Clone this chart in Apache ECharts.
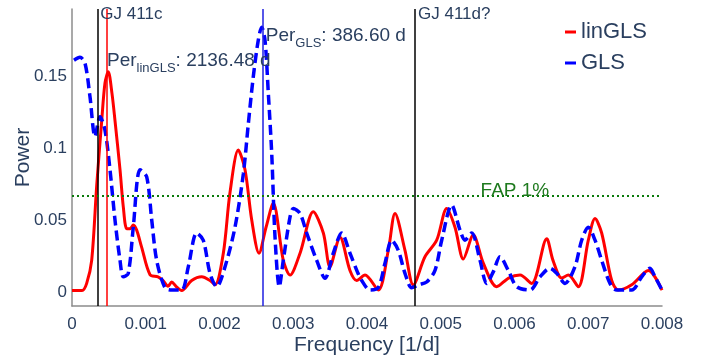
<!DOCTYPE html>
<html>
<head>
<meta charset="utf-8">
<script src="https://cdn.jsdelivr.net/npm/echarts@6/dist/echarts.min.js"></script>
<style>
  html, body { margin: 0; padding: 0; background: #ffffff; }
  #chart { width: 711px; height: 363px; }
</style>
</head>
<body>
<div id="chart"></div>
<script>
// Periodogram of the RV residuals: linear-trend GLS and plain GLS
const freqLinGLS = [0, 0.000136, 0.000199, 0.000267, 0.000335, 0.000403, 0.000447, 0.000492, 0.000542, 0.000583,
  0.000651, 0.000696, 0.000742, 0.000786, 0.000831, 0.000877, 0.000945, 0.001058, 0.001166, 0.001234,
  0.001302, 0.001352, 0.001410, 0.001487, 0.001623, 0.001759, 0.001871, 0.001939, 0.002052, 0.002142,
  0.002255, 0.002346, 0.002437, 0.002536, 0.002631, 0.002729, 0.002865, 0.002956, 0.003092, 0.003272,
  0.003408, 0.003498, 0.003634, 0.003769, 0.003860, 0.003973, 0.004153, 0.004289, 0.004380, 0.004515,
  0.004628, 0.004786, 0.004945, 0.005081, 0.005193, 0.005306, 0.005441, 0.005577, 0.005759, 0.005920,
  0.006075, 0.006233, 0.006437, 0.006522, 0.006640, 0.006730, 0.006865, 0.007001, 0.007092, 0.007182,
  0.007318, 0.007408, 0.007589, 0.007814, 0.008];
const powerLinGLS = [0.001, 0.001, 0.006, 0.022, 0.074, 0.119, 0.145, 0.153, 0.138, 0.119,
  0.085, 0.059, 0.044, 0.044, 0.0465, 0.043, 0.031, 0.012, 0.0106, 0.008,
  0.004, 0.007, 0.004, 0.001, 0.008, 0.0106, 0.008, 0.005, 0.027, 0.069,
  0.0986, 0.085, 0.05, 0.027, 0.045, 0.0616, 0.022, 0.0118, 0.027, 0.0558,
  0.041, 0.0176, 0.038, 0.015, 0.008, 0.0118, 0.0014, 0.029, 0.0546, 0.029,
  0.0049, 0.0245, 0.036, 0.058, 0.045, 0.023, 0.0396, 0.02, 0.0037, 0.0097,
  0.0118, 0.006, 0.037, 0.022, 0.0097, 0.0118, 0.0037, 0.036, 0.051, 0.041,
  0.008, 0.0014, 0.005, 0.015, 0.0014];

const freqGLS = [0.000027, 0.000108, 0.000176, 0.000244, 0.000312, 0.000380, 0.000447, 0.000515, 0.000583, 0.000651,
  0.000696, 0.000763, 0.000831, 0.000922, 0.001013, 0.001081, 0.001148, 0.001261, 0.001356, 0.001487,
  0.001577, 0.001691, 0.001780, 0.001871, 0.001962, 0.002075, 0.002210, 0.002323, 0.002391, 0.002458,
  0.002526, 0.002572, 0.002617, 0.002662, 0.002708, 0.002753, 0.002811, 0.002865, 0.002956, 0.003001,
  0.003092, 0.003182, 0.003318, 0.003431, 0.003543, 0.003657, 0.003769, 0.003878, 0.003928, 0.004041,
  0.004153, 0.004244, 0.004335, 0.004424, 0.004515, 0.004606, 0.004696, 0.004809, 0.004922, 0.005013,
  0.005148, 0.005261, 0.005329, 0.005420, 0.005532, 0.005623, 0.005712, 0.005803, 0.005916, 0.006030,
  0.006210, 0.006346, 0.006481, 0.006572, 0.006685, 0.006820, 0.006911, 0.007001, 0.007092, 0.007182,
  0.007295, 0.007386, 0.007589, 0.007725, 0.007837, 0.007905, 0.008];
const powerGLS = [0.161, 0.163, 0.159, 0.1356, 0.108, 0.1218, 0.1125, 0.085, 0.05, 0.022,
  0.0106, 0.013, 0.045, 0.085, 0.08, 0.05, 0.022, 0.003, 0.0014, 0.0014,
  0.0176, 0.041, 0.036, 0.013, 0.0037, 0.0176, 0.045, 0.082, 0.117, 0.1495,
  0.175, 0.184, 0.175, 0.138, 0.0963, 0.038, 0.0037, 0.022, 0.052, 0.058,
  0.0546, 0.041, 0.022, 0.0095, 0.027, 0.041, 0.027, 0.013, 0.008, 0.0014,
  0.003, 0.02, 0.036, 0.029, 0.013, 0.003, 0.005, 0.007, 0.015, 0.036,
  0.0604, 0.043, 0.036, 0.041, 0.022, 0.006, 0.014, 0.0245, 0.015, 0.0037,
  0.0014, 0.0106, 0.0165, 0.013, 0.006, 0.0176, 0.036, 0.045, 0.036, 0.022,
  0.006, 0.0014, 0.0014, 0.0106, 0.0165, 0.0106, 0.0014];

const xTickValues = [0, 0.001, 0.002, 0.003, 0.004, 0.005, 0.006, 0.007, 0.008];
const xTickLabels = ['0', '0.001', '0.002', '0.003', '0.004', '0.005', '0.006', '0.007', '0.008'];
const yTickValues = [0, 0.05, 0.1, 0.15];
const yTickLabels = ['0', '0.05', '0.1', '0.15'];

const periodLinGLS = 2136.48;   // days
const periodGLS = 386.60;       // days
const planetPeriods = [2852, 215];
const planetLabels = ['GJ 411c', 'GJ 411d?'];
const fapLevel = 0.0667;        // 1% false-alarm power

const FONT = "'Liberation Sans', Arial, sans-serif";
const TEXT = '#2a3f5f';
const AXIS_GREY = '#8c8c8c';

function zip(xs, ys) { return xs.map((x, i) => [x, ys[i]]); }
function labelFor(values, labels) {
  return v => {
    const i = values.findIndex(t => Math.abs(t - v) < 1e-9);
    return i >= 0 ? labels[i] : '';
  };
}

const chart = echarts.init(document.getElementById('chart'), null, { renderer: 'canvas' });

const option = {
  animation: false,
  backgroundColor: '#ffffff',
  textStyle: { fontFamily: FONT },
  grid: { left: 72, right: 49, top: 9, bottom: 57, containLabel: false, outerBoundsMode: 'none' },
  legend: {
    orient: 'vertical',
    left: 565, top: 21, padding: 0,
    itemGap: 9,
    icon: 'rect', itemWidth: 11, itemHeight: 3,
    textStyle: { fontSize: 22, lineHeight: 22, color: TEXT, fontFamily: FONT },
    data: ['linGLS', 'GLS']
  },
  xAxis: {
    type: 'value', min: 0, max: 0.008,
    name: 'Frequency [1/d]', nameLocation: 'middle', nameGap: 29, nameMoveOverlap: false,
    nameTextStyle: { fontSize: 21, color: TEXT, fontFamily: FONT },
    axisLine: { show: true, onZero: false, lineStyle: { color: AXIS_GREY, width: 1.5 } },
    axisTick: { show: false },
    splitLine: { show: false },
    axisLabel: {
      customValues: xTickValues,
      formatter: labelFor(xTickValues, xTickLabels),
      fontSize: 17, color: TEXT, margin: 10, fontFamily: FONT
    }
  },
  yAxis: {
    type: 'value', min: -0.0097, max: 0.1966,
    name: 'Power', nameLocation: 'middle', nameGap: 38, nameMoveOverlap: false,
    nameTextStyle: { fontSize: 21, color: TEXT, fontFamily: FONT },
    axisLine: { show: true, onZero: false, lineStyle: { color: AXIS_GREY, width: 1.5 } },
    axisTick: { show: false },
    splitLine: { show: false },
    axisLabel: {
      customValues: yTickValues,
      formatter: labelFor(yTickValues, yTickLabels),
      fontSize: 17, color: TEXT, margin: 5, fontFamily: FONT
    }
  },
  series: [
    {
      name: 'linGLS', type: 'line', data: zip(freqLinGLS, powerLinGLS),
      showSymbol: false, smooth: 0.3, color: '#ff0000',
      lineStyle: { color: '#ff0000', width: 3 }, z: 3
    },
    {
      name: 'GLS', type: 'line', data: zip(freqGLS, powerGLS),
      showSymbol: false, smooth: 0.3, color: '#0000ff',
      lineStyle: { color: '#0000ff', width: 3.5, type: [10, 5] }, z: 4,
      markLine: {
        silent: true, symbol: 'none', label: { show: false }, precision: 8,
        data: [
          { xAxis: 1 / planetPeriods[0], lineStyle: { color: '#000000', width: 1.5, type: 'solid' } },
          { xAxis: 1 / planetPeriods[1], lineStyle: { color: '#000000', width: 1.5, type: 'solid' } },
          { xAxis: 1 / periodLinGLS, lineStyle: { color: '#ff0000', width: 1.5, type: 'solid' } },
          { xAxis: 1 / periodGLS, lineStyle: { color: '#1f1fe0', width: 1.5, type: 'solid' } },
          { yAxis: fapLevel, lineStyle: { color: '#0a7a0a', width: 2, type: [2, 3] } }
        ]
      }
    }
  ]
};
chart.setOption(option);

// Text annotations placed in data coordinates
function px(x, y) { return chart.convertToPixel({ gridIndex: 0 }, [x, y]); }
const topY = 0.1966;
const gj0 = px(1 / planetPeriods[0], topY);
const gj1 = px(1 / planetPeriods[1], topY);
const perLin = px(1 / periodLinGLS, 0.1673);
const perG = px(1 / periodGLS, 0.1847);
const fap = px(0.00554, fapLevel);

function richPer(sub, value) {
  return {
    text: '{m|Per}{s|' + sub + '}{m|: ' + value + ' d}',
    rich: {
      m: { fontSize: 19, lineHeight: 24, verticalAlign: 'top', fill: TEXT, fontFamily: FONT },
      s: { fontSize: 13, lineHeight: 12, verticalAlign: 'bottom', fill: TEXT, fontFamily: FONT }
    },
    align: 'left', verticalAlign: 'top'
  };
}

chart.setOption({
  graphic: [
    { type: 'text', silent: true, z: 10, x: gj0[0] + 2.5, y: gj0[1] - 3.5,
      style: { text: planetLabels[0], fontSize: 17, fontFamily: FONT, fill: TEXT, align: 'left', verticalAlign: 'top' } },
    { type: 'text', silent: true, z: 10, x: gj1[0] + 3, y: gj1[1] - 3.5,
      style: { text: planetLabels[1], fontSize: 17, fontFamily: FONT, fill: TEXT, align: 'left', verticalAlign: 'top' } },
    { type: 'text', silent: true, z: 10, x: perLin[0] + 0.5, y: perLin[1],
      style: richPer('linGLS', periodLinGLS.toFixed(2)) },
    { type: 'text', silent: true, z: 10, x: perG[0] + 3, y: perG[1],
      style: richPer('GLS', periodGLS.toFixed(2)) },
    { type: 'text', silent: true, z: 10, x: fap[0], y: fap[1] + 4,
      style: { text: 'FAP 1%', fontSize: 19, fontFamily: FONT, fill: '#1e7a1e', align: 'left', verticalAlign: 'bottom' } }
  ]
});
</script>
</body>
</html>
